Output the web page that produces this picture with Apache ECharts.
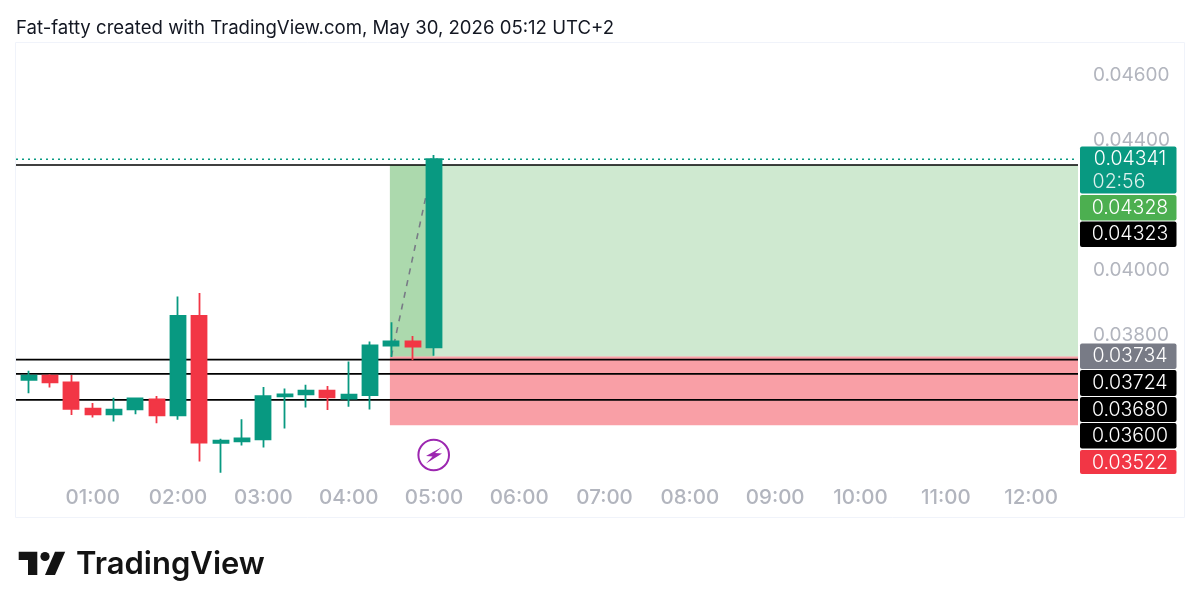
<!DOCTYPE html>
<html><head><meta charset="utf-8">
<style>html,body{margin:0;padding:0;background:#fff}#c{width:1200px;height:611px}</style>
<script src="https://cdn.jsdelivr.net/npm/echarts@6/dist/echarts.min.js"></script>
</head><body><div id="c"></div>
<script>
// Minutes since 00:00 for each 15-minute candle
const times  = [15,30,45,60,75,90,105,120,135,150,165,180,195,210,225,240,255,270,285,300];
const opens  = [.03662,.03675,.03654,.03573,.03556,.03571,.03602,.03553,.03859,.03468,.03473,.03479,.03611,.03617,.03629,.03604,.03615,.03767,.03780,.03762];
const closes = [.03675,.03654,.03573,.03556,.03570,.03605,.03553,.03859,.03469,.03475,.03482,.03612,.03617,.03629,.03608,.03616,.03768,.03780,.03764,.04341];
const lows   = [.03621,.03638,.03554,.03546,.03534,.03556,.03528,.03539,.03411,.03376,.03460,.03454,.03512,.03577,.03569,.03579,.03571,.03732,.03722,.03736];
const highs  = [.03690,.03679,.03677,.03591,.03607,.03607,.03612,.03918,.03929,.03481,.03541,.03640,.03635,.03647,.03643,.03718,.03780,.03839,.03797,.04354];
const priceTicks = [.038,.040,.044,.046];
const timeTicks = [60,120,180,240,300,360,420,480,540,600,660,720];
const horizontalLevels = [.04323,.03724,.0368,.036];
const lastPrice = .04341;
const entryPrice = .03734, targetPrice = .04323, stopPrice = .03522;
const positionStart = 269, positionNow = 300, entryTime = 270;
const tagTexts = ['0.04341','0.04328','0.04323','0.03734','0.03724','0.03680','0.03600','0.03522'];
const tagColors = ['#089981','#4caf50','#000000','#787b86','#000000','#000000','#000000','#f23645'];
const tagTops = [146.5,195,221.5,343.5,370,397,423,450];
const tagHeights = [47,25.5,25.5,25.5,26,25,25.5,24];

const xMin = 6, xMax = 753;
const pad = n => String(n).padStart(2,'0');
const FONT = 'Inter, "Noto Sans", sans-serif';
const chart = echarts.init(document.getElementById('c'), null, {renderer:'canvas'});

const hline = (v, color, type, w, z) => ({
  type:'line', data:[[xMin,v],[xMax,v]], symbol:'none', silent:true, z:z,
  lineStyle:{color:color,type:type,width:w}, animation:false
});

const tagGraphics = [];
tagTexts.forEach((t,i)=>{
  tagGraphics.push({type:'rect', z:100, shape:{x:1080,y:tagTops[i],width:96.5,height:tagHeights[i],r:2}, style:{fill:tagColors[i]}});
  tagGraphics.push({type:'text', z:101, style:{x:1130,y:tagTops[i]+12.8,text:t,fill:'#fff',font:'300 19.5px '+FONT,textAlign:'center',textVerticalAlign:'middle'}});
});
tagGraphics.push({type:'text', z:101, style:{x:1119,y:182.5,text:'02:56',fill:'#ffffff',opacity:.85,font:'300 19.5px '+FONT,textAlign:'center',textVerticalAlign:'middle'}});

chart.setOption({
  animation:false,
  backgroundColor:'#fff',
  grid:{left:16,right:122,top:43,bottom:133,containLabel:false},
  xAxis:{type:'value',min:xMin,max:xMax,
    axisLine:{show:false},axisTick:{show:false},splitLine:{show:false},
    axisLabel:{customValues:timeTicks,color:'#b2b5be',fontFamily:FONT,fontSize:20.5,fontWeight:500,margin:9,
      formatter:v=>pad(Math.floor(v/60))+':'+pad(v%60)}},
  yAxis:{type:'value',position:'right',min:.033599,max:.046984,
    axisLine:{show:false},axisTick:{show:false},splitLine:{show:false},
    axisLabel:{customValues:priceTicks,color:'#b2b5be',fontFamily:FONT,fontSize:19,margin:15,
      formatter:v=>v.toFixed(5)}},
  series:[
    {type:'line',data:[],z:1,silent:true,
      markArea:{silent:true,data:[
        [{coord:[positionStart,targetPrice],itemStyle:{color:'rgba(76,175,80,0.27)'}},{coord:[xMax,entryPrice]}],
        [{coord:[positionStart,targetPrice],itemStyle:{color:'rgba(76,175,80,0.27)'}},{coord:[positionNow,entryPrice]}],
        [{coord:[positionStart,entryPrice],itemStyle:{color:'rgba(242,54,69,0.48)'}},{coord:[xMax,stopPrice]}]
      ]}},
    hline(lastPrice,'#089981',[2,4],1.5,2),
    ...horizontalLevels.map(v=>hline(v,'#000000','solid',1.7,3)),
    {type:'line',data:[[entryTime,entryPrice],[positionNow,lastPrice]],symbol:'none',silent:true,z:3,
      lineStyle:{color:'#787b86',type:[6,6],width:1.6}},
    {type:'candlestick',z:5,barWidth:15.5,silent:true,
      encode:{x:0,y:[1,2,3,4]},
      data:times.map((t,i)=>[t,opens[i],closes[i],lows[i],highs[i]]),
      itemStyle:{color:'#089981',color0:'#f23645',borderColor:'#089981',borderColor0:'#f23645',borderWidth:1.8}}
  ],
  graphic:[
    {type:'rect',z:-1,shape:{x:15.5,y:42.5,width:1169,height:475},style:{fill:'none',stroke:'#f0f3fa',lineWidth:1}},
    {type:'text',z:10,style:{x:16,y:28,text:'Fat-fatty created with TradingView.com, May 30, 2026 05:12 UTC+2',fill:'#131722',font:'400 18.6px '+FONT,textVerticalAlign:'middle'}},
    ...tagGraphics,
    {type:'circle',z:10,shape:{cx:433.7,cy:455,r:15.3},style:{fill:'#fff',stroke:'#9c27b0',lineWidth:2}},
    {type:'polygon',z:11,shape:{points:[[442,447],[426,456],[432.5,456.5],[426,463.5],[442,453.5],[435,453]]},style:{fill:'#9c27b0'}},
    {type:'polygon',z:10,shape:{points:[[18.7,551.7],[37.3,551.7],[37.3,575],[28,575],[28,560],[18.7,560]]},style:{fill:'#131313'}},
    {type:'circle',z:10,shape:{cx:45,cy:556.5,r:4.6},style:{fill:'#131313'}},
    {type:'polygon',z:10,shape:{points:[[55,551.7],[65.2,551.7],[55,575],[45,575]]},style:{fill:'#131313'}},
    {type:'text',z:10,style:{x:76,y:565,text:'TradingView',fill:'#131313',font:'600 31px '+FONT,textVerticalAlign:'middle'}}
  ]
});
</script></body></html>
